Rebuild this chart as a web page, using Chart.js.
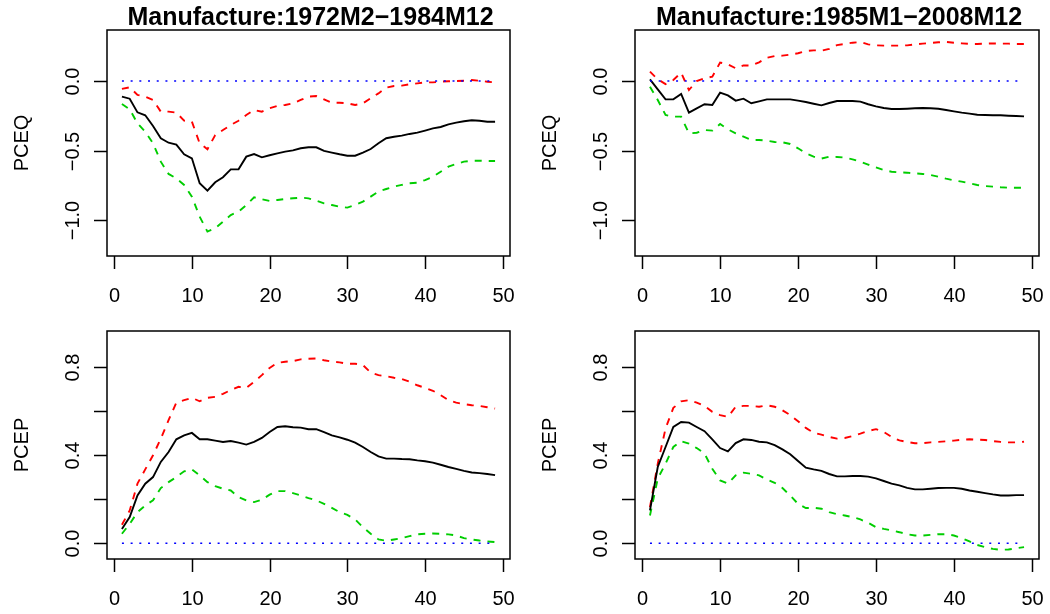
<!DOCTYPE html>
<html>
<head>
<meta charset="utf-8">
<script src="https://cdn.jsdelivr.net/npm/chart.js@4"></script>
<style>
  html, body { margin: 0; padding: 0; background: #fff; }
  .panel { position: absolute; }
</style>
</head>
<body>
<canvas id="pceq-early" class="panel" width="525" height="307" style="left:0;top:0"></canvas>
<canvas id="pceq-late" class="panel" width="525" height="307" style="left:525px;top:0"></canvas>
<canvas id="pcep-early" class="panel" width="525" height="307" style="left:0;top:307px"></canvas>
<canvas id="pcep-late" class="panel" width="525" height="307" style="left:525px;top:307px"></canvas>
<script>
// impulse response horizons (months)
const horizon = [1, 2, 3, 4, 5, 6, 7, 8, 9, 10, 11, 12, 13, 14, 15, 16, 17, 18, 19, 20,
    21, 22, 23, 24, 25, 26, 27, 28, 29, 30, 31, 32, 33, 34, 35, 36, 37, 38, 39, 40,
    41, 42, 43, 44, 45, 46, 47, 48, 49];

const xTicks = [0, 10, 20, 30, 40, 50];
const pceqTicks = [-1.0, -0.5, 0.0];
const pceqLabels = ['\u22121.0', '\u22120.5', '0.0'];
const pcepTicks = [0.0, 0.2, 0.4, 0.6, 0.8];
const pcepLabels = ['0.0', '', '0.4', '', '0.8'];

// PCEQ response, 1972M2-1984M12
const pceqEarly = [-0.112, -0.127, -0.225, -0.246, -0.323, -0.411, -0.443, -0.457, -0.526, -0.555,
    -0.734, -0.787, -0.727, -0.691, -0.634, -0.634, -0.543, -0.524, -0.548, -0.533,
    -0.519, -0.507, -0.498, -0.483, -0.476, -0.476, -0.502, -0.514, -0.526, -0.536,
    -0.536, -0.514, -0.488, -0.447, -0.411, -0.400, -0.392, -0.380, -0.371, -0.356,
    -0.340, -0.330, -0.311, -0.299, -0.289, -0.282, -0.285, -0.292, -0.292];
const pceqEarlyUp = [-0.057, -0.045, -0.100, -0.112, -0.136, -0.220, -0.220, -0.227, -0.285, -0.292,
    -0.447, -0.490, -0.388, -0.352, -0.316, -0.285, -0.244, -0.208, -0.220, -0.196,
    -0.179, -0.172, -0.160, -0.136, -0.112, -0.108, -0.132, -0.156, -0.156, -0.160,
    -0.172, -0.160, -0.124, -0.089, -0.048, -0.036, -0.033, -0.024, -0.017, -0.010,
    -0.010, -0.005, -0.002, 0.000, 0.002, 0.007, 0.002, -0.005, -0.010];
const pceqEarlyLo = [-0.165, -0.203, -0.304, -0.364, -0.447, -0.579, -0.667, -0.699, -0.746, -0.830,
    -0.974, -1.081, -1.057, -1.010, -0.962, -0.938, -0.890, -0.835, -0.849, -0.861,
    -0.854, -0.847, -0.842, -0.837, -0.842, -0.859, -0.878, -0.890, -0.902, -0.909,
    -0.890, -0.866, -0.830, -0.794, -0.775, -0.758, -0.746, -0.734, -0.730, -0.711,
    -0.687, -0.651, -0.615, -0.596, -0.579, -0.572, -0.572, -0.574, -0.574];

// PCEQ response, 1985M1-2008M12
const pceqLate = [0.012, -0.060, -0.132, -0.132, -0.093, -0.227, -0.196, -0.167, -0.172, -0.084,
    -0.103, -0.141, -0.127, -0.160, -0.146, -0.132, -0.132, -0.132, -0.132, -0.141,
    -0.151, -0.163, -0.175, -0.158, -0.144, -0.144, -0.144, -0.148, -0.167, -0.182,
    -0.194, -0.201, -0.201, -0.199, -0.196, -0.194, -0.196, -0.199, -0.208, -0.218,
    -0.227, -0.234, -0.242, -0.244, -0.246, -0.246, -0.249, -0.251, -0.254];
const pceqLateUp = [0.067, 0.012, -0.022, 0.007, 0.060, -0.065, 0.000, 0.019, 0.031, 0.132,
    0.120, 0.091, 0.112, 0.110, 0.134, 0.167, 0.179, 0.182, 0.189, 0.199,
    0.215, 0.220, 0.218, 0.230, 0.258, 0.266, 0.275, 0.280, 0.263, 0.256,
    0.254, 0.254, 0.254, 0.256, 0.263, 0.268, 0.273, 0.278, 0.280, 0.275,
    0.270, 0.266, 0.266, 0.268, 0.270, 0.268, 0.268, 0.266, 0.266];
const pceqLateLo = [-0.041, -0.136, -0.244, -0.256, -0.256, -0.376, -0.371, -0.352, -0.356, -0.309,
    -0.347, -0.376, -0.400, -0.423, -0.423, -0.428, -0.438, -0.440, -0.452, -0.483,
    -0.519, -0.543, -0.557, -0.543, -0.545, -0.550, -0.562, -0.579, -0.600, -0.620,
    -0.639, -0.651, -0.656, -0.658, -0.663, -0.667, -0.675, -0.687, -0.701, -0.713,
    -0.722, -0.734, -0.746, -0.754, -0.758, -0.763, -0.766, -0.766, -0.766];

// PCEP response, 1972M2-1984M12
const pcepEarly = [0.065, 0.119, 0.217, 0.271, 0.301, 0.370, 0.415, 0.473, 0.491, 0.502,
    0.473, 0.473, 0.467, 0.461, 0.465, 0.458, 0.449, 0.461, 0.479, 0.506,
    0.529, 0.532, 0.528, 0.526, 0.519, 0.519, 0.506, 0.491, 0.482, 0.471,
    0.458, 0.438, 0.415, 0.395, 0.385, 0.385, 0.383, 0.382, 0.377, 0.373,
    0.367, 0.357, 0.347, 0.338, 0.329, 0.322, 0.319, 0.315, 0.310];
const pcepEarlyUp = [0.084, 0.149, 0.271, 0.336, 0.400, 0.476, 0.560, 0.640, 0.651, 0.662,
    0.646, 0.662, 0.666, 0.680, 0.697, 0.712, 0.707, 0.735, 0.765, 0.798,
    0.821, 0.826, 0.829, 0.837, 0.840, 0.841, 0.833, 0.827, 0.823, 0.817,
    0.817, 0.811, 0.777, 0.765, 0.760, 0.753, 0.747, 0.735, 0.719, 0.707,
    0.694, 0.674, 0.651, 0.640, 0.633, 0.628, 0.625, 0.619, 0.613];
const pcepEarlyLo = [0.043, 0.088, 0.141, 0.172, 0.195, 0.251, 0.278, 0.301, 0.327, 0.336,
    0.309, 0.278, 0.260, 0.248, 0.240, 0.210, 0.195, 0.187, 0.198, 0.221,
    0.237, 0.237, 0.228, 0.217, 0.205, 0.195, 0.179, 0.161, 0.141, 0.129,
    0.108, 0.073, 0.043, 0.017, 0.011, 0.017, 0.023, 0.032, 0.040, 0.043,
    0.044, 0.043, 0.040, 0.035, 0.023, 0.017, 0.012, 0.008, 0.005];

// PCEP response, 1985M1-2008M12
const pcepLate = [0.149, 0.347, 0.438, 0.529, 0.552, 0.549, 0.529, 0.510, 0.473, 0.433,
    0.418, 0.456, 0.473, 0.470, 0.462, 0.459, 0.446, 0.427, 0.405, 0.374,
    0.344, 0.336, 0.329, 0.315, 0.304, 0.304, 0.306, 0.306, 0.303, 0.295,
    0.283, 0.271, 0.263, 0.252, 0.245, 0.245, 0.248, 0.251, 0.252, 0.252,
    0.248, 0.240, 0.234, 0.228, 0.222, 0.217, 0.217, 0.219, 0.219];
const pcepLateUp = [0.164, 0.362, 0.522, 0.616, 0.646, 0.651, 0.640, 0.625, 0.598, 0.583,
    0.575, 0.621, 0.625, 0.625, 0.621, 0.628, 0.621, 0.605, 0.583, 0.555,
    0.525, 0.503, 0.494, 0.484, 0.476, 0.479, 0.488, 0.499, 0.511, 0.519,
    0.506, 0.484, 0.468, 0.461, 0.455, 0.455, 0.459, 0.461, 0.464, 0.467,
    0.471, 0.473, 0.471, 0.470, 0.465, 0.461, 0.459, 0.459, 0.462];
const pcepLateLo = [0.126, 0.294, 0.362, 0.438, 0.464, 0.453, 0.433, 0.408, 0.339, 0.286,
    0.271, 0.309, 0.321, 0.316, 0.309, 0.290, 0.275, 0.251, 0.217, 0.179,
    0.160, 0.161, 0.157, 0.141, 0.132, 0.126, 0.119, 0.108, 0.093, 0.073,
    0.065, 0.058, 0.050, 0.041, 0.035, 0.035, 0.038, 0.041, 0.041, 0.035,
    0.023, 0.008, -0.008, -0.018, -0.026, -0.030, -0.029, -0.023, -0.018];

const FONT = '"Liberation Sans", Arial, Helvetica, sans-serif';

function pts(vals) {
    return horizon.map((h, i) => ({ x: h, y: vals[i] }));
}

// R-style frame: box, outward ticks, rotated y labels, title and axis name
const rFrame = {
    id: 'rFrame',
    afterDraw(chart, args, opts) {
        const ctx = chart.ctx;
        const area = chart.chartArea;
        const xs = chart.scales.x;
        const ys = chart.scales.y;
        ctx.save();
        ctx.strokeStyle = '#000';
        ctx.fillStyle = '#000';
        ctx.lineWidth = 1.5;
        ctx.setLineDash([]);
        ctx.strokeRect(area.left, area.top, area.right - area.left, area.bottom - area.top);

        ctx.font = '20px ' + FONT;
        ctx.textAlign = 'center';
        ctx.textBaseline = 'alphabetic';
        xTicks.forEach(t => {
            const px = Math.round(xs.getPixelForValue(t)) + 0.5;
            ctx.beginPath();
            ctx.moveTo(px, area.bottom);
            ctx.lineTo(px, area.bottom + 13);
            ctx.stroke();
            ctx.fillText(String(t), px, area.bottom + 46);
        });

        opts.yTicks.forEach((t, i) => {
            const py = Math.round(ys.getPixelForValue(t)) + 0.5;
            ctx.beginPath();
            ctx.moveTo(area.left - 13, py);
            ctx.lineTo(area.left, py);
            ctx.stroke();
            if (opts.yLabels[i]) {
                ctx.save();
                ctx.translate(area.left - 28, py);
                ctx.rotate(-Math.PI / 2);
                ctx.fillText(opts.yLabels[i], 0, 0);
                ctx.restore();
            }
        });

        ctx.save();
        ctx.translate(area.left - 79, (area.top + area.bottom) / 2);
        ctx.rotate(-Math.PI / 2);
        ctx.fillText(opts.yName, 0, 0);
        ctx.restore();

        if (opts.title) {
            ctx.font = 'bold 25px ' + FONT;
            ctx.fillText(opts.title, (area.left + area.right) / 2 + 2, area.top - 5);
        }
        ctx.restore();
    }
};

function renderPanel(id, cfg) {
    const ctx = document.getElementById(id).getContext('2d');
    return new Chart(ctx, {
        type: 'line',
        data: {
            datasets: [
                {
                    data: [{ x: horizon[0], y: 0 }, { x: horizon[horizon.length - 1], y: 0 }],
                    borderColor: '#0000ff',
                    borderWidth: 1.6,
                    borderDash: [2, 6.7]
                },
                {
                    data: pts(cfg.mid),
                    borderColor: '#000000',
                    borderWidth: 1.9
                },
                {
                    data: pts(cfg.up),
                    borderColor: '#ff0000',
                    borderWidth: 1.9,
                    borderDash: [7, 7]
                },
                {
                    data: pts(cfg.lo),
                    borderColor: '#00cd00',
                    borderWidth: 1.9,
                    borderDash: [7, 7]
                }
            ]
        },
        options: {
            responsive: false,
            animation: false,
            layout: { padding: cfg.padding },
            elements: {
                point: { radius: 0 },
                line: { tension: 0, borderCapStyle: 'butt' }
            },
            scales: {
                x: { type: 'linear', min: -0.92, max: 50.92, display: false },
                y: { type: 'linear', min: cfg.yMin, max: cfg.yMax, display: false }
            },
            plugins: {
                legend: { display: false },
                tooltip: { enabled: false },
                rFrame: {
                    title: cfg.title,
                    yName: cfg.yName,
                    yTicks: cfg.yTicks,
                    yLabels: cfg.yLabels
                }
            }
        },
        plugins: [rFrame]
    });
}

const leftPad = { left: 107, right: 15 };
const rightPad = { left: 110, right: 11 };

renderPanel('pceq-early', {
    title: 'Manufacture:1972M2\u22121984M12', yName: 'PCEQ',
    mid: pceqEarly, up: pceqEarlyUp, lo: pceqEarlyLo,
    yMin: -1.256, yMax: 0.366, yTicks: pceqTicks, yLabels: pceqLabels,
    padding: { ...leftPad, top: 30, bottom: 51 }
});
renderPanel('pceq-late', {
    title: 'Manufacture:1985M1\u22122008M12', yName: 'PCEQ',
    mid: pceqLate, up: pceqLateUp, lo: pceqLateLo,
    yMin: -1.256, yMax: 0.366, yTicks: pceqTicks, yLabels: pceqLabels,
    padding: { ...rightPad, top: 30, bottom: 51 }
});
renderPanel('pcep-early', {
    title: '', yName: 'PCEP',
    mid: pcepEarly, up: pcepEarlyUp, lo: pcepEarlyLo,
    yMin: -0.072, yMax: 0.966, yTicks: pcepTicks, yLabels: pcepLabels,
    padding: { ...leftPad, top: 24, bottom: 55 }
});
renderPanel('pcep-late', {
    title: '', yName: 'PCEP',
    mid: pcepLate, up: pcepLateUp, lo: pcepLateLo,
    yMin: -0.072, yMax: 0.966, yTicks: pcepTicks, yLabels: pcepLabels,
    padding: { ...rightPad, top: 24, bottom: 55 }
});
</script>
</body>
</html>
